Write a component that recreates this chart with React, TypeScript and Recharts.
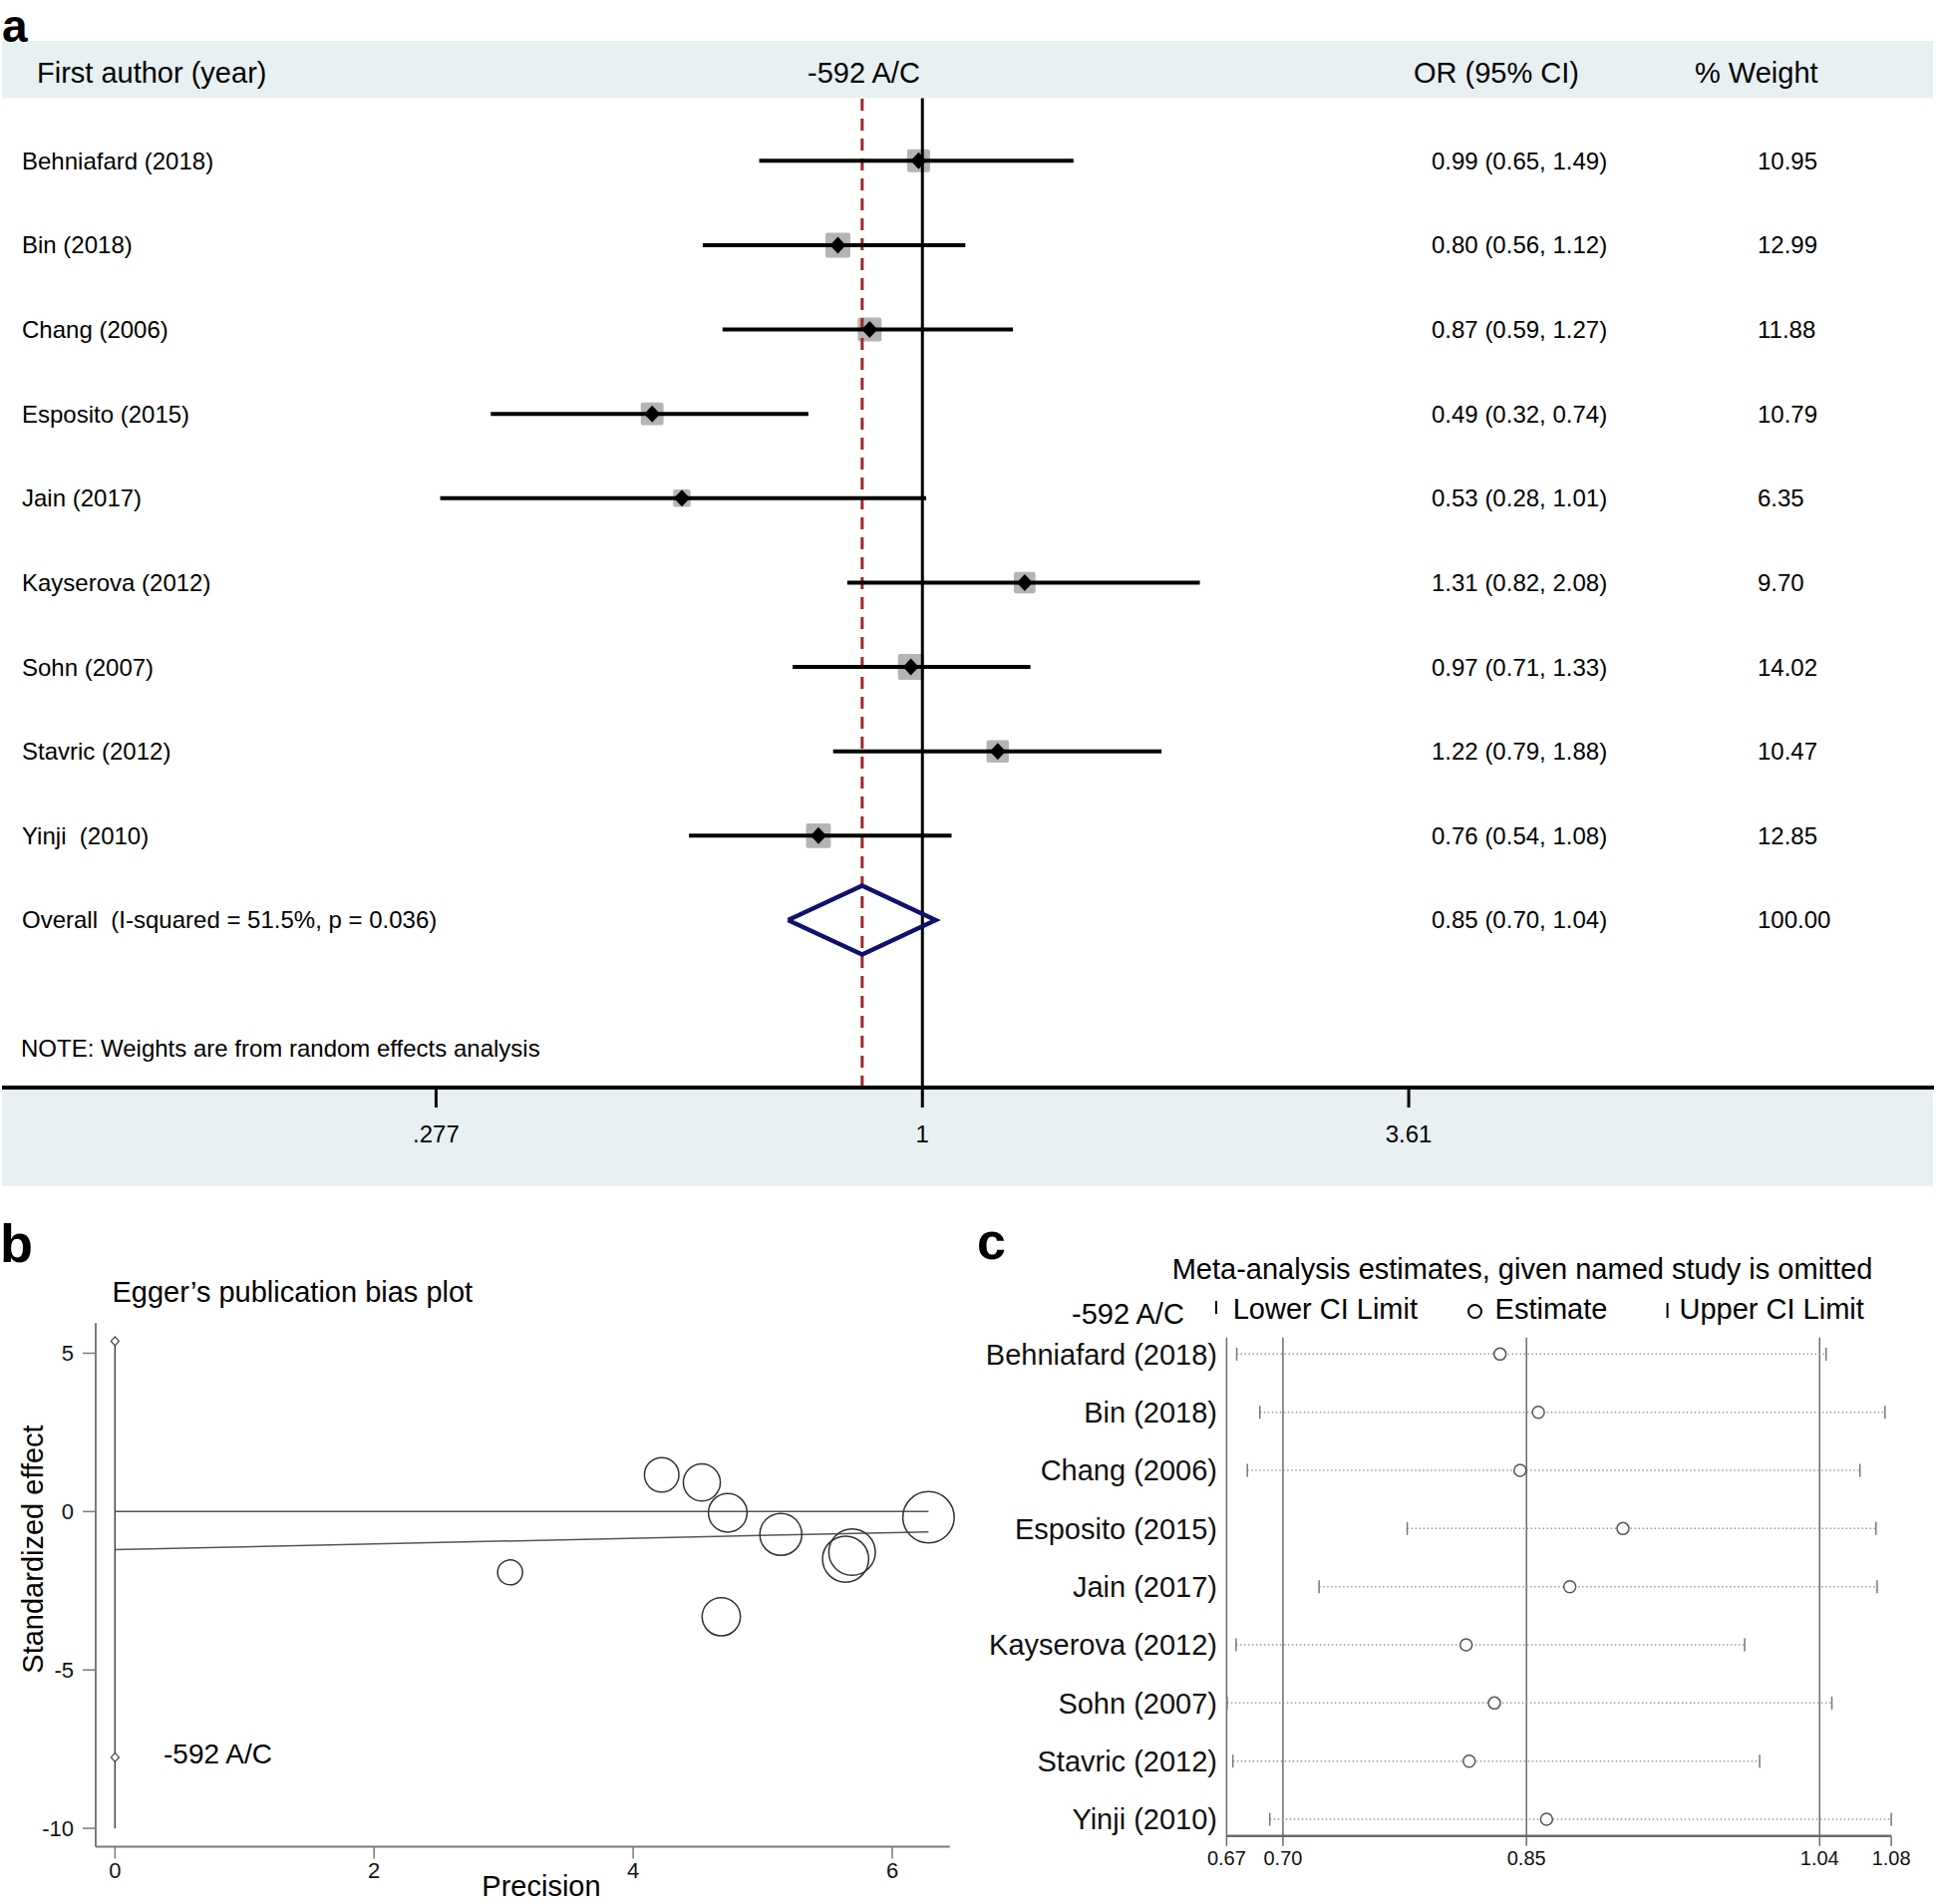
import React from "react";
import { ComposedChart, XAxis, YAxis, Line, Scatter, ReferenceLine } from "recharts";

const W = 1946;
const H = 1910;
const FONT = "'Liberation Sans', Arial, Helvetica, sans-serif";

// a: forest plot
const studies = ["Behniafard (2018)", "Bin (2018)", "Chang (2006)", "Esposito (2015)", "Jain (2017)", "Kayserova (2012)", "Sohn (2007)", "Stavric (2012)", "Yinji  (2010)"];
const orEst = [0.99, 0.8, 0.87, 0.49, 0.53, 1.31, 0.97, 1.22, 0.76];
const orLow = [0.65, 0.56, 0.59, 0.32, 0.28, 0.82, 0.71, 0.79, 0.54];
const orHigh = [1.49, 1.12, 1.27, 0.74, 1.01, 2.08, 1.33, 1.88, 1.08];
const weightPct = [10.95, 12.99, 11.88, 10.79, 6.35, 9.7, 14.02, 10.47, 12.85];
const overall = [0.853, 0.7013, 1.0356]; // estimate, lower, upper
const overallWeight = 100;
const overallLabel = "Overall  (I-squared = 51.5%, p = 0.036)";
const forestTicks = [0.277, 1, 3.61];
const forestTickText = [".277", "1", "3.61"];

// b: Egger's plot
const eggerPrecision = [4.73, 5.69, 5.14, 4.68, 3.05, 4.22, 6.28, 4.53, 5.64];
const eggerEffect = [-0.04, -1.28, -0.72, -3.32, -1.92, 1.16, -0.18, 0.92, -1.5];
const eggerFitX = [0, 6.28];
const eggerFitY = [-1.2, -0.64];
const eggerCi = [5.38, -7.76];
const eggerCiBottom = -10;
const eggerXTicks = [0, 2, 4, 6];
const eggerYTicks = [5, 0, -5, -10];

// c: leave-one-out
const omitStudies = ["Behniafard (2018)", "Bin (2018)", "Chang (2006)", "Esposito (2015)", "Jain (2017)", "Kayserova (2012)", "Sohn (2007)", "Stavric (2012)", "Yinji (2010)"];
const omitEst = [0.8365, 0.8604, 0.849, 0.9131, 0.88, 0.8154, 0.833, 0.8173, 0.8655];
const omitLow = [0.6725, 0.6869, 0.6791, 0.7787, 0.7238, 0.6721, 0.6665, 0.6701, 0.6931];
const omitHigh = [1.0396, 1.0763, 1.0607, 1.0707, 1.0714, 0.9889, 1.0432, 0.9982, 1.0802];
const influenceTicks = [0.6662, 0.7013, 0.853, 1.0356, 1.0802];

const fmt2 = (v: number) => v.toFixed(2);
const abs: React.CSSProperties = { position: "absolute", left: 0, top: 0 };

function ForestRowTick({ y, payload }: any) {
  const i = payload.value;
  const isOverall = i === studies.length;
  const name = isOverall ? overallLabel : studies[i];
  const est = isOverall ? overall[0] : orEst[i];
  const lo = isOverall ? overall[1] : orLow[i];
  const hi = isOverall ? overall[2] : orHigh[i];
  const w = isOverall ? overallWeight : weightPct[i];
  return (
    <g fontFamily={FONT} fontSize={24} fill="#000">
      <text x={22} y={y} dy="0.35em" xmlSpace="preserve" style={{ whiteSpace: "pre" }}>{name}</text>
      <text x={1436} y={y} dy="0.35em">{`${fmt2(est)} (${fmt2(lo)}, ${fmt2(hi)})`}</text>
      <text x={1763} y={y} dy="0.35em">{fmt2(w)}</text>
    </g>
  );
}

const ForestBox = (p: any) => {
  const s = 6.94 * Math.sqrt(p.payload.w);
  return <rect x={p.cx - s / 2} y={p.cy - s / 2} width={s} height={s} rx={2} fill="#b4b4b4" />;
};

const ForestPoint = (p: any) => (
  <path d={`M${p.cx - 8},${p.cy}L${p.cx},${p.cy - 8.5}L${p.cx + 8},${p.cy}L${p.cx},${p.cy + 8.5}Z`} fill="#000" />
);

function ForestPlot() {
  const rows = studies.map((_, i) => ({ x: orEst[i], y: i, w: weightPct[i] }));
  const n = studies.length;
  const dh = 0.408;
  const diamond = [
    { x: overall[1], y: n },
    { x: overall[0], y: n - dh },
    { x: overall[2], y: n },
    { x: overall[0], y: n + dh },
    { x: overall[1], y: n },
  ];
  return (
    <div style={abs}>
      <ComposedChart width={W} height={H} margin={{ top: 98.5, right: 6, bottom: 0, left: 0 }}>
        <XAxis
          type="number" dataKey="x" scale="log" domain={[0.08807, 14.445]} allowDataOverflow
          ticks={forestTicks} interval={0} height={819}
          tickFormatter={(v: number) => forestTickText[forestTicks.indexOf(v)] ?? String(v)}
          axisLine={{ stroke: "#000", strokeWidth: 4 }} tickLine={{ stroke: "#000", strokeWidth: 3 }}
          tickSize={20} tickMargin={18} tick={{ fontSize: 24, fill: "#000", fontFamily: FONT }}
        />
        <YAxis
          type="number" dataKey="y" domain={[-0.742, 10.985]} reversed allowDataOverflow width={2}
          ticks={[0, 1, 2, 3, 4, 5, 6, 7, 8, 9]} interval={0} axisLine={false} tickLine={false}
          tick={(p: any) => <ForestRowTick {...p} />}
        />
        <ReferenceLine x={1} stroke="#000" strokeWidth={3} />
        <ReferenceLine x={overall[0]} stroke="#a0262e" strokeWidth={3} strokeDasharray="12 8" />
        <Scatter data={rows} shape={ForestBox} isAnimationActive={false} zIndex={350} />
        {studies.map((_, i) => (
          <Line
            key={i} data={[{ x: orLow[i], y: i }, { x: orHigh[i], y: i }]} dataKey="y"
            stroke="#000" strokeWidth={4} dot={false} activeDot={false} isAnimationActive={false}
          />
        ))}
        <Scatter data={rows} shape={ForestPoint} isAnimationActive={false} zIndex={700} />
        <Line
          data={diamond} dataKey="y" stroke="#10106e" strokeWidth={4.5} strokeLinejoin="miter"
          dot={false} activeDot={false} isAnimationActive={false}
        />
      </ComposedChart>
    </div>
  );
}

const EggerCircle = (p: any) => (
  <circle cx={p.cx} cy={p.cy} r={4.1 * p.payload.x} fill="none" stroke="#333" strokeWidth={1.5} />
);
const SmallDiamond = (p: any) => (
  <path d={`M${p.cx - 4},${p.cy}L${p.cx},${p.cy - 4.5}L${p.cx + 4},${p.cy}L${p.cx},${p.cy + 4.5}Z`} fill="#fff" stroke="#444" strokeWidth={1.2} />
);

function EggerPlot() {
  const pts = eggerPrecision.map((x, i) => ({ x, y: eggerEffect[i] }));
  const zero = eggerFitX.map((x) => ({ x, y: 0 }));
  const fit = eggerFitX.map((x, i) => ({ x, y: eggerFitY[i] }));
  const ci = [{ x: 0, y: eggerCiBottom }, { x: 0, y: eggerCi[0] }];
  const ciMarks = eggerCi.map((y) => ({ x: 0, y }));
  const tickStyle = { fontSize: 22, fill: "#111", fontFamily: FONT };
  return (
    <div style={abs}>
      <ComposedChart width={W} height={H} margin={{ top: 1327.3, right: 993.3, bottom: 0, left: 0 }}>
        <XAxis
          type="number" dataKey="x" domain={[-0.149, 6.444]} ticks={eggerXTicks} interval={0}
          height={57.5} axisLine={{ stroke: "#7a7a7a", strokeWidth: 2 }} tickLine={{ stroke: "#7a7a7a", strokeWidth: 1.5 }}
          tickSize={12} tickMargin={4} tick={tickStyle}
        />
        <YAxis
          type="number" dataKey="y" domain={[-10.58, 5.95]} ticks={eggerYTicks} interval={0}
          width={96} axisLine={{ stroke: "#7a7a7a", strokeWidth: 2 }} tickLine={{ stroke: "#7a7a7a", strokeWidth: 1.5 }}
          tickSize={13} tickMargin={9} tick={tickStyle}
        />
        <Line data={ci} dataKey="y" stroke="#444" strokeWidth={1.5} dot={false} activeDot={false} isAnimationActive={false} />
        <Line data={zero} dataKey="y" stroke="#555" strokeWidth={1.5} dot={false} activeDot={false} isAnimationActive={false} />
        <Line data={fit} dataKey="y" stroke="#555" strokeWidth={1.5} dot={false} activeDot={false} isAnimationActive={false} />
        <Scatter data={ciMarks} shape={SmallDiamond} isAnimationActive={false} />
        <Scatter data={pts} shape={EggerCircle} isAnimationActive={false} />
      </ComposedChart>
    </div>
  );
}

const EndTick = (p: any) => <line x1={p.cx} x2={p.cx} y1={p.cy - 6.5} y2={p.cy + 6.5} stroke="#777" strokeWidth={1.5} />;
const EstCircle = (p: any) => <circle cx={p.cx} cy={p.cy} r={6} fill="#fff" stroke="#555" strokeWidth={1.5} />;

function InfluencePlot() {
  const est = omitStudies.map((_, i) => ({ x: omitEst[i], y: i }));
  const ends = omitStudies.flatMap((_, i) => [{ x: omitLow[i], y: i }, { x: omitHigh[i], y: i }]);
  return (
    <div style={abs}>
      <ComposedChart width={W} height={H} margin={{ top: 1341.7, right: 48.9, bottom: 0, left: 0 }}>
        <XAxis
          type="number" dataKey="x" domain={[influenceTicks[0], influenceTicks[4]]}
          ticks={influenceTicks} interval={0} tickFormatter={(v: number) => v.toFixed(2)} height={68.3}
          axisLine={{ stroke: "#6b6b6b", strokeWidth: 2.5 }} tickLine={{ stroke: "#6b6b6b", strokeWidth: 1.5 }}
          tickSize={10} tickMargin={5} tick={{ fontSize: 20, fill: "#111", fontFamily: FONT }}
        />
        <YAxis
          type="number" dataKey="y" domain={[-0.2857, 8.2857]} reversed width={1230.4}
          ticks={[0, 1, 2, 3, 4, 5, 6, 7, 8]} interval={0} tickLine={false}
          axisLine={{ stroke: "#6b6b6b", strokeWidth: 1.5 }}
          tick={(p: any) => (
            <text x={1221} y={p.y} dy="0.35em" textAnchor="end" fontSize={29} fontFamily={FONT} fill="#111">
              {omitStudies[p.payload.value]}
            </text>
          )}
        />
        {overall.map((v) => (
          <ReferenceLine key={v} x={v} stroke="#6b6b6b" strokeWidth={1.5} />
        ))}
        {omitStudies.map((_, i) => (
          <Line
            key={i} data={[{ x: omitLow[i], y: i }, { x: omitHigh[i], y: i }]} dataKey="y"
            stroke="#9a9a9a" strokeWidth={1.5} strokeDasharray="1.5 2.5"
            dot={false} activeDot={false} isAnimationActive={false}
          />
        ))}
        <Scatter data={ends} shape={EndTick} isAnimationActive={false} />
        <Scatter data={est} shape={EstCircle} isAnimationActive={false} />
      </ComposedChart>
    </div>
  );
}

export default function App() {
  const band = "#e8f0f2";
  return (
    <div style={{ position: "absolute", left: 0, top: 0, width: W, height: H, background: "#fff", overflow: "hidden" }}>
      <svg width={W} height={H} style={abs}>
        <rect x={2} y={41} width={1937} height={57.5} fill={band} />
        <rect x={2} y={1091} width={1937} height={99} fill={band} />
      </svg>
      <ForestPlot />
      <EggerPlot />
      <InfluencePlot />
      <svg width={W} height={H} style={{ ...abs, pointerEvents: "none" }} fontFamily={FONT} fill="#000">
        <text x={2} y={42} fontSize={46} fontWeight="bold">a</text>
        <text x={0} y={1266} fontSize={54} fontWeight="bold">b</text>
        <text x={980} y={1263} fontSize={52} fontWeight="bold">c</text>

        <g fontSize={29}>
          <text x={37} y={83}>First author (year)</text>
          <text x={810} y={83}>-592 A/C</text>
          <text x={1418} y={83}>OR (95% CI)</text>
          <text x={1700} y={83}>% Weight</text>
        </g>
        <text x={21} y={1059.5} fontSize={24}>NOTE: Weights are from random effects analysis</text>

        <text x={112.5} y={1306} fontSize={29}>Egger’s publication bias plot</text>
        <text x={164} y={1769} fontSize={28}>-592 A/C</text>
        <text x={0} y={0} fontSize={29} textAnchor="middle" transform="translate(43,1554) rotate(-90)">Standardized effect</text>
        <text x={543} y={1902} fontSize={29} textAnchor="middle">Precision</text>

        <text x={1175.7} y={1283.3} fontSize={29}>Meta-analysis estimates, given named study is omitted</text>
        <g fontSize={29}>
          <text x={1075} y={1328}>-592 A/C</text>
          <line x1={1220} x2={1220} y1={1305} y2={1318} stroke="#000" strokeWidth={2} />
          <text x={1236.7} y={1323.3}>Lower CI Limit</text>
          <circle cx={1479.5} cy={1315.5} r={6.5} fill="none" stroke="#000" strokeWidth={2} />
          <text x={1499.6} y={1323.3}>Estimate</text>
          <line x1={1672.6} x2={1672.6} y1={1307} y2={1322} stroke="#000" strokeWidth={2} />
          <text x={1684.5} y={1323.3}>Upper CI Limit</text>
        </g>
      </svg>
    </div>
  );
}
